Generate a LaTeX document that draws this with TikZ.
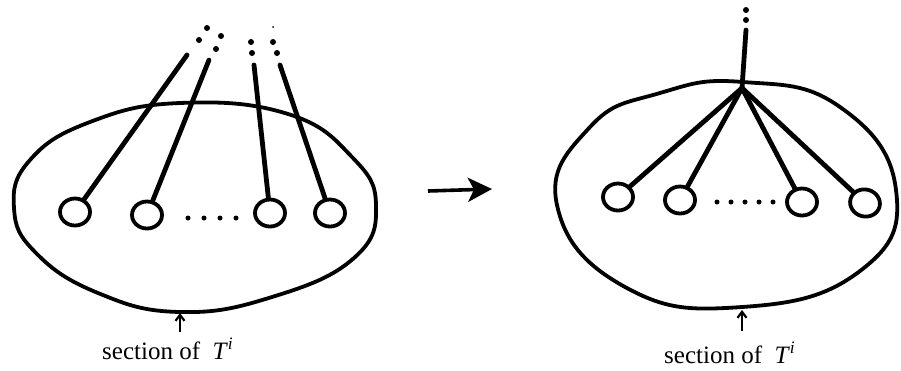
\documentclass[tikz,border=0pt]{standalone}
\usepackage{fontspec}
\setmainfont{Liberation Serif}
\usetikzlibrary{arrows.meta,shapes.geometric}
\begin{document}
\begin{tikzpicture}[x=1pt,y=-1pt,
  outline/.style={line width=3.8pt,line join=round},
  ring/.style={draw,ellipse,line width=3.8pt,minimum width=30pt,minimum height=27pt,inner sep=0pt},
  strand/.style={line width=4.8pt,line cap=round},
  dotmark/.style={circle,fill,inner sep=0pt,minimum size=6pt},
  tick/.style={line width=2.2pt,-{Straight Barb[length=6pt,width=9pt]}},
  lbl/.style={font=\fontsize{25}{28}\selectfont,anchor=base west,inner sep=0pt}]
\useasboundingbox (0,0) rectangle (901,370);
% ---------------- left picture ----------------
\draw[outline] plot[smooth cycle,tension=0.75] coordinates {
  (180,103) (288,114) (352,157) (376,205) (354,258) (272,297) (180,312)
  (98,293) (36,253) (14,208) (30,160) (90,122)};
\node[ring] (a1) at (75,212) {};
\node[ring] (a2) at (147,215) {};
\node[ring] (a3) at (270,213) {};
\node[ring] (a4) at (330,213) {};
\coordinate (t1) at (187,55);
\coordinate (t2) at (209,60);
\coordinate (t3) at (254,65);
\coordinate (t4) at (280,65);
\draw[strand] (a1) -- (t1);
\draw[strand] (a2) -- (t2);
\draw[strand] (a3) -- (t3);
\draw[strand] (a4) -- (t4);
\foreach \p in {(199,40),(207,28),(216,49),(221,36),(252,53),(251,42),(277,53),(273,42)}
  \node[dotmark] at \p {};
\node[dotmark,minimum size=2pt] at (273,27) {};
\foreach \x in {188,204,220,236}
  \node[dotmark,minimum size=5pt] at (\x,218) {};
\coordinate (ab) at (180,332);
\coordinate (at) at (180,313);
\draw[tick] (ab) -- (at);
\node[lbl] (la) at (102,359) {section of \ \textit{T}\textsuperscript{\textit{i}}};
% ---------------- middle arrow ----------------
\coordinate (m1) at (428,191);
\coordinate (m2) at (492,189);
\draw[line width=3.6pt,-{Stealth[length=24pt,width=24pt,inset=6pt]}] (m1) -- (m2);
% ---------------- right picture ----------------
\draw[outline] plot[smooth cycle,tension=0.8] coordinates {
  (743,82) (840,107) (896,190) (860,271) (742,307) (625,287) (557,205)
  (590,127) (660,93)};
\node[ring] (b1) at (618,197) {};
\node[ring] (b2) at (680,200) {};
\node[ring] (b3) at (802,202) {};
\node[ring,rotate=-15] (b4) at (865,203) {};
\coordinate (j) at (742,88);
\coordinate (jt) at (746,30);
\draw[strand] (j) -- (jt);
\draw[strand] (b1) -- (j);
\draw[strand] (b2) -- (j);
\draw[strand] (b3) -- (j);
\draw[strand] (b4) -- (j);
\node[dotmark] at (746,10) {};
\node[dotmark] at (746,20) {};
\foreach \x in {717,731,745,759,773}
  \node[dotmark,minimum size=5pt] at (\x,202) {};
\coordinate (bb) at (742,331);
\coordinate (bt) at (742,310);
\draw[tick] (bb) -- (bt);
\node[lbl] (lb) at (664,363) {section of \ \textit{T}\textsuperscript{\textit{i}}};
\end{tikzpicture}
\end{document}
